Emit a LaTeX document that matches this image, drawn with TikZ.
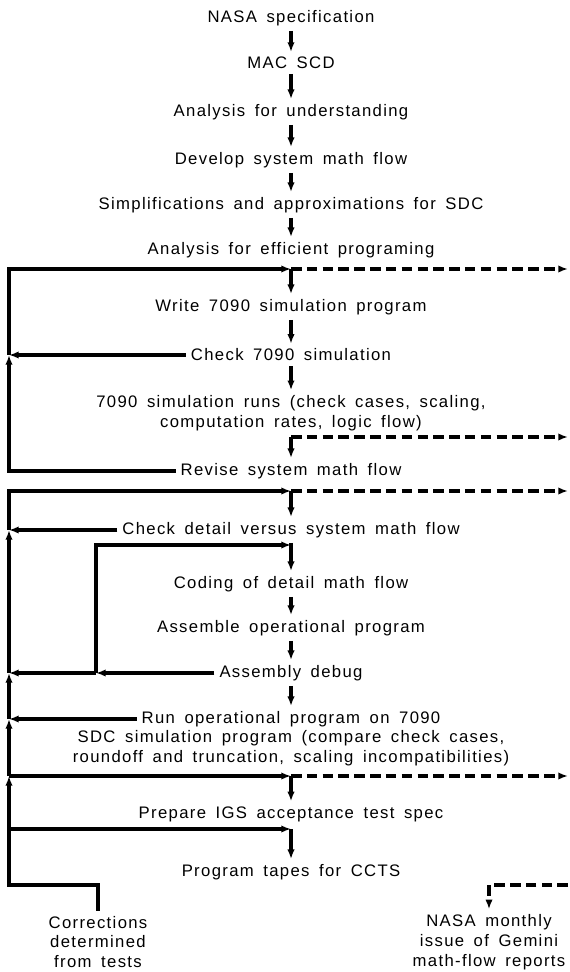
\documentclass[tikz,border=0pt]{standalone}
\usepackage{fontspec}
\setmainfont{Liberation Sans}[LetterSpace=8,WordSpace=1.6]
\usetikzlibrary{arrows.meta}

\begin{document}
\begin{tikzpicture}[x=0.02cm,y=-0.02cm,line width=1.8pt,
  every node/.style={font=\fontsize{9.5}{11.3}\selectfont,align=center,inner sep=2pt},
  flow/.style={-{Latex[length=5.5pt,width=4.2pt]}},
  feed/.style={flow,dash pattern=on 6pt off 3pt}]
\useasboundingbox (0,0) rectangle (570,972);

% steps
\node (nasa)   at (291,18)  {NASA specification};
\node (mac)    at (291,63)  {MAC SCD};
\node (under)  at (291,112) {Analysis for understanding};
\node (devel)  at (291,160) {Develop system math flow};
\node (simp)   at (291,205) {Simplifications and approximations for SDC};
\node (effic)  at (291,250) {Analysis for efficient programing};
\node (write)  at (291,307) {Write 7090 simulation program};
\node (chk)    at (291,355) {Check 7090 simulation};
\node (runs)   at (291,413) {7090 simulation runs (check cases, scaling,\\computation rates, logic flow)};
\node (revise) at (291,471) {Revise system math flow};
\node (chkd)   at (291,530) {Check detail versus system math flow};
\node (coding) at (291,584) {Coding of detail math flow};
\node (assem)  at (291,628) {Assemble operational program};
\node (debug)  at (291,673) {Assembly debug};
\node (run)    at (291,719) {Run operational program on 7090};
\node (sdc)    at (291,748) {SDC simulation program (compare check cases,\\roundoff and truncation, scaling incompatibilities)};
\node (prep)   at (291,814) {Prepare IGS acceptance test spec};
\node (tapes)  at (291,872) {Program tapes for CCTS};
\node (corr)   at (98,942)  {Corrections\\determined\\from tests};
\node (rep)    at (489,942) {NASA monthly\\issue of Gemini\\math-flow reports};

% junctions
\coordinate (j1) at (291,269);
\coordinate (j2) at (291,437);
\coordinate (j3) at (291,491);
\coordinate (j4) at (291,545);
\coordinate (j5) at (291,776);
\coordinate (j6) at (291,829);
\coordinate (a1) at (9,355);
\coordinate (a2) at (9,530);
\coordinate (a3) at (9,673);
\coordinate (a4) at (9,719);
\coordinate (a5) at (9,776);
\coordinate (a6) at (9,885);
\coordinate (a7) at (9,829);
\coordinate (b3) at (96,673);
\coordinate (e1) at (568,269);
\coordinate (e2) at (568,437);
\coordinate (e3) at (568,491);
\coordinate (e5) at (568,776);
\coordinate (e6) at (568,885);

% main line
\draw[flow] (nasa) -- (mac);
\draw[flow] (mac) -- (under);
\draw[flow] (under) -- (devel);
\draw[flow] (devel) -- (simp);
\draw[flow] (simp) -- (effic);
\draw[flow] (j1) -- (write);
\draw[flow] (write) -- (chk);
\draw[flow] (chk) -- (runs);
\draw[flow] (j2) -- (revise);
\draw[flow] (j3) -- (chkd);
\draw[flow] (chkd) -- (coding);
\draw[flow] (coding) -- (assem);
\draw[flow] (assem) -- (debug);
\draw[flow] (debug) -- (run);
\draw[flow] (j5) -- (prep);
\draw[flow] (j6) -- (tapes);

% first loop
\draw[flow] (chk.west) -- (a1);
\draw[flow] (revise.west) -| (a1);
\draw[flow] (a1) |- (j1);

% second loop
\draw[flow] (chkd.west) -- (a2);
\draw[flow] (debug.west) -- (b3);
\draw[flow] (b3) -- (a3);
\draw[flow] (b3) |- (j4);
\draw[flow] (run.west) -- (a4);
\draw[flow] (corr.north) |- (a6) -- (a5);
\draw[flow] (a5) -- (a4);
\draw[flow] (a4) -- (a3);
\draw[flow] (a3) -- (a2);
\draw[flow] (a2) |- (j3);
\draw[flow] (a5) -- (j5);
\draw[flow] (a7) -- (j6);

% reports
\draw[feed] (j1) -- (e1);
\draw[feed] (j2) -- (e2);
\draw[feed] (j3) -- (e3);
\draw[feed] (j5) -- (e5);
\draw[feed] (e6) -| (rep.north);
\end{tikzpicture}
\end{document}
